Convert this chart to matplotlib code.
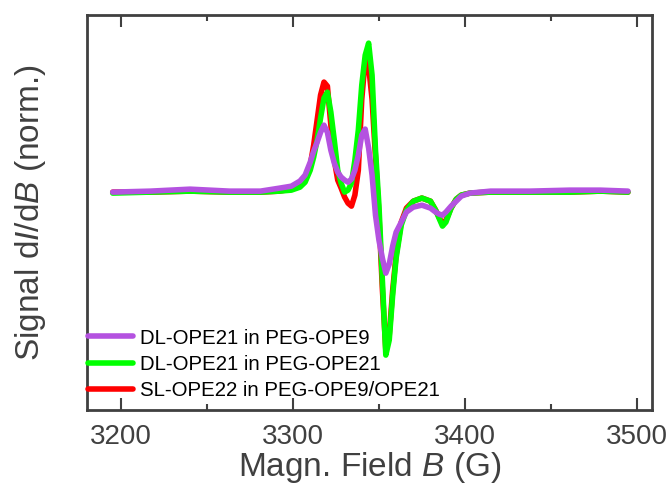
import numpy as np
import matplotlib
matplotlib.use("Agg")
import matplotlib.pyplot as plt
from matplotlib.ticker import MultipleLocator, NullLocator

# field axis (G), shared by the three spectra
field = [3195, 3217, 3240, 3263, 3281, 3292, 3299, 3304, 3307, 3310,
         3312, 3314, 3316, 3318, 3320, 3322, 3324, 3326, 3328, 3330,
         3332, 3334, 3336, 3338, 3340, 3342, 3344, 3346, 3348, 3350,
         3352, 3354, 3356, 3358, 3360, 3363, 3366, 3370, 3375, 3380,
         3383, 3385, 3387, 3389, 3392, 3395, 3398, 3403, 3415, 3438,
         3461, 3479, 3495]

# normalized derivative signals
dl_peg9 = [-0.012, -0.006, 0.006, -0.006, -0.006, 0.012, 0.024, 0.055, 0.091, 0.17,
           0.236, 0.29, 0.35, 0.394, 0.35, 0.242, 0.164, 0.109, 0.079, 0.061,
           0.048, 0.067, 0.121, 0.212, 0.333, 0.37, 0.255, 0.091, -0.152, -0.303,
           -0.412, -0.503, -0.448, -0.339, -0.255, -0.194, -0.133, -0.103, -0.091, -0.109,
           -0.133, -0.145, -0.152, -0.133, -0.097, -0.067, -0.036, -0.018, -0.006, -0.006,
           0.0, 0.0, -0.006]

dl_peg21 = [-0.018, -0.012, -0.006, -0.012, -0.012, -0.006, 0.0, 0.018, 0.048, 0.121,
            0.2, 0.303, 0.436, 0.558, 0.594, 0.473, 0.303, 0.121, 0.042, -0.012,
            0.0, 0.042, 0.182, 0.364, 0.636, 0.818, 0.891, 0.697, 0.242, -0.091,
            -0.545, -1.0, -0.909, -0.636, -0.412, -0.212, -0.121, -0.067, -0.048, -0.067,
            -0.121, -0.17, -0.218, -0.194, -0.109, -0.055, -0.03, -0.018, -0.012, -0.012,
            -0.012, -0.006, -0.012]

sl_mix = [-0.012, -0.012, -0.006, -0.012, -0.012, -0.006, 0.006, 0.024, 0.061, 0.152,
          0.273, 0.424, 0.576, 0.655, 0.63, 0.394, 0.182, 0.061, 0.012, -0.042,
          -0.079, -0.097, -0.03, 0.121, 0.55, 0.79, 0.75, 0.55, 0.2, -0.15,
          -0.6, -0.97, -0.879, -0.606, -0.394, -0.194, -0.109, -0.067, -0.048, -0.067,
          -0.121, -0.164, -0.206, -0.182, -0.109, -0.055, -0.03, -0.018, -0.012, -0.012,
          -0.012, -0.006, -0.012]

labels = ["DL-OPE21 in PEG-OPE9", "DL-OPE21 in PEG-OPE21", "SL-OPE22 in PEG-OPE9/OPE21"]
colors = ["#b452e0", "#00ff00", "#ff0000"]

plt.rcParams["font.family"] = ["Liberation Sans", "DejaVu Sans"]
plt.rcParams["mathtext.fontset"] = "custom"
plt.rcParams["mathtext.rm"] = "Liberation Sans"
plt.rcParams["mathtext.it"] = "Liberation Sans:italic"

grey = "#404040"

fig = plt.figure(figsize=(6.69, 4.87), dpi=100)
ax = fig.add_axes([0.130, 0.158, 0.8446, 0.811])

series = [dl_peg9, dl_peg21, sl_mix]
lines = []
for i, (y, lab, c) in enumerate(zip(series, labels, colors)):
    ln, = ax.plot(field, y, color=c, lw=4.0, label=lab, zorder=5 - i,
                  solid_capstyle="round", solid_joinstyle="round")
    lines.append(ln)

ax.set_xlim(3180, 3509)
ax.set_ylim(-1.333, 1.061)

ax.xaxis.set_major_locator(MultipleLocator(100))
ax.xaxis.set_minor_locator(MultipleLocator(50))
ax.yaxis.set_major_locator(NullLocator())
ax.tick_params(axis="x", which="both", direction="in", top=True, bottom=True,
               color=grey, width=1.5, labelsize=20, labelcolor=grey, pad=10)
ax.tick_params(axis="x", which="major", length=8.6)
ax.tick_params(axis="x", which="minor", length=4.3)

for sp in ax.spines.values():
    sp.set_linewidth(2)
    sp.set_color(grey)

ax.set_xlabel(r"Magn. Field $\mathit{B}$ (G)", fontsize=24, color=grey, labelpad=0)
ax.set_ylabel(r"Signal d$\mathit{I}$/d$\mathit{B}$ (norm.)", fontsize=24, color=grey,
              labelpad=28)

ax.legend(handles=lines, loc="lower left", bbox_to_anchor=(-0.016, 0.0),
          frameon=False, fontsize=14.7, handlelength=2.2, handletextpad=0.35,
          labelspacing=0.35, borderaxespad=0.0, borderpad=0.5)

fig.savefig("out.png", dpi=100)
